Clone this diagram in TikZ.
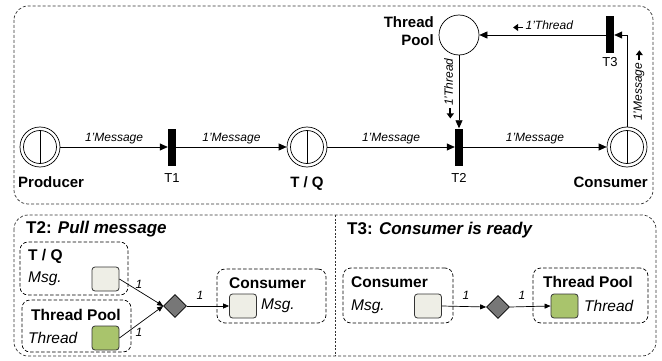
\documentclass[tikz,border=0pt]{standalone}
\usepackage{fontspec}
\setmainfont{Liberation Sans}
\usetikzlibrary{arrows.meta,shapes.geometric}

% bold direction arrows used inside arc inscriptions
\newcommand\larrow{\tikz[baseline=-0.4ex, x=1pt, y=1pt]\draw[line width=1.9pt, -{Triangle[length=5pt,width=7pt]}] (10,0) -- (0,0);\hspace{1.5pt}}
\newcommand\rarrow{\hspace{1.5pt}\tikz[baseline=-0.4ex, x=1pt, y=1pt]\draw[line width=1.9pt, -{Triangle[length=5pt,width=7pt]}] (0,0) -- (10,0);}

\definecolor{tokgray}{HTML}{EEEEE6}
\definecolor{tokgreen}{HTML}{A9C46C}
\definecolor{diagray}{HTML}{777777}
\definecolor{edgegray}{HTML}{333333}

\begin{document}
\begin{tikzpicture}[x=1pt,y=-1pt,
  frame/.style={draw=edgegray, line width=0.7pt, dash pattern=on 3pt off 2pt, rounded corners=14pt},
  subbox/.style={draw=black, line width=0.7pt, dash pattern=on 3.5pt off 2pt, rounded corners=8pt, inner sep=0, fill=none},
  place/.style={circle, draw, line width=0.7pt, minimum size=40pt, inner sep=0pt,
    path picture={
      \draw[line width=0.7pt] (path picture bounding box.center) circle[radius=16.5pt];
      \draw[line width=0.7pt] ([yshift=16.5pt]path picture bounding box.center) -- ([yshift=-16.5pt]path picture bounding box.center);}},
  plainplace/.style={circle, draw, line width=0.7pt, minimum size=40pt, inner sep=0pt},
  trans/.style={fill=black, draw=none, minimum width=8pt, minimum height=37pt, inner sep=0pt},
  arr/.style={-{Triangle[length=8pt,width=7pt]}, line width=0.7pt},
  sarr/.style={-{Triangle[length=6pt,width=5pt]}, line width=0.7pt},
  elabel/.style={font=\fontsize{12}{14}\selectfont\itshape, inner sep=0pt},
  plabel/.style={font=\fontsize{15}{17}\selectfont\bfseries, inner sep=0pt},
  tlabel/.style={font=\fontsize{13}{15}\selectfont, inner sep=0pt},
  title/.style={font=\fontsize{17}{19}\selectfont\bfseries, inner sep=0pt, anchor=west},
  head/.style={font=\fontsize{15.5}{17}\selectfont\bfseries, inner sep=0pt, anchor=west},
  item/.style={font=\fontsize{15.5}{17}\selectfont\itshape, inner sep=0pt, anchor=west},
  one/.style={font=\fontsize{12}{14}\selectfont\itshape, inner sep=0pt},
  token/.style={draw=edgegray, line width=0.8pt, rounded corners=3pt, minimum width=27pt, minimum height=24pt, inner sep=0pt},
  gate/.style={diamond, draw=black, line width=0.7pt, fill=diagray, minimum size=23pt, inner sep=0pt}
]
\useasboundingbox (0,0) rectangle (662,361);

% ---------- net ----------
\draw[frame] (14,6) rectangle (653,204);
\draw[frame] (14,215) rectangle (656,356);
\draw[edgegray, line width=0.7pt, dash pattern=on 2pt off 1.5pt] (335,215) -- (335,356);

\node[place] (prod) at (40,147) {};
\node[trans] (t1) at (172,147) {};
\node[place] (tq) at (307,147) {};
\node[trans] (t2) at (459,147) {};
\node[place] (cons) at (627,147) {};
\node[plainplace] (pool) at (459,35) {};
\node[trans] (t3) at (610,35) {};

\node[plabel, anchor=west] (lprod) at (18,182) {Producer};
\node[tlabel] (lt1) at (172,178) {T1};
\node[plabel] (ltq) at (307,184) {T / Q};
\node[tlabel] (lt2) at (459,178) {T2};
\node[plabel, anchor=east] (lcons) at (648,182) {Consumer};
\node[plabel, align=right, anchor=east] (lpool) at (434,31) {Thread\\[1pt]Pool};
\node[tlabel] (lt3) at (610,62) {T3};

\draw[arr] (prod) -- (t1) node[elabel, midway, anchor=base, yshift=6pt] {1'Message};
\draw[arr] (t1) -- (tq) node[elabel, midway, anchor=base, yshift=6pt] {1'Message};
\draw[arr] (tq) -- (t2) node[elabel, midway, anchor=base, yshift=6pt] {1'Message};
\draw[arr] (t2) -- (cons) node[elabel, midway, anchor=base, yshift=6pt] {1'Message};
\draw[arr] (t3) -- (pool) node[elabel, midway, anchor=base, yshift=5pt] {\larrow1'Thread};
\draw[arr] (pool) -- (t2);
\node[elabel, rotate=90] (lpt) at (449,89) {\larrow1'Thread};
\draw[arr] (cons.north) |- (t3.east);
\node[elabel, rotate=90] (lct) at (639,85) {1'Message\rarrow};

% ---------- T2 binding ----------
\node[title] (ht2) at (26,229) {T2: \textit{Pull message}};

\node[subbox, minimum width=108pt, minimum height=53pt] (bq) at (74,268.5) {};
\node[head] (hq) at (28,256) {T / Q};
\node[item] (iq) at (28,279) {Msg.};
\node[token, fill=tokgray] (kq) at (105.5,279) {};

\node[subbox, minimum width=109pt, minimum height=52pt] (bp) at (76.5,326) {};
\node[head] (hp) at (31,315) {Thread Pool};
\node[item] (ip) at (28,338) {Thread};
\node[token, fill=tokgreen] (kp) at (105.5,338) {};

\node[gate] (g2) at (175,306) {};

\node[subbox, minimum width=109pt, minimum height=54pt] (bc) at (271.5,296) {};
\node[head] (hc) at (229,283) {Consumer};
\node[token, fill=tokgray] (kc) at (243,306) {};
\node[item] (ic) at (261,306) {Msg.};

\draw[sarr] (kq.east) -- (g2.west);
\draw[sarr] (kp.east) -- (g2.west);
\draw[sarr] (g2.east) -- (kc.west);
\node[one] at (139,284) {1};
\node[one] at (139,332) {1};
\node[one] at (200,295) {1};

% ---------- T3 binding ----------
\node[title] (ht3) at (347,230) {T3: \textit{Consumer is ready}};

\node[subbox, minimum width=110pt, minimum height=55pt] (bc3) at (398,295.5) {};
\node[head] (hc3) at (351,282) {Consumer};
\node[item] (ic3) at (351,307) {Msg.};
\node[token, fill=tokgray] (kc3) at (428,306) {};

\node[gate] (g3) at (498,307) {};

\node[subbox, minimum width=115pt, minimum height=55pt] (bp3) at (590.5,295.5) {};
\node[head] (hp3) at (543,282) {Thread Pool};
\node[token, fill=tokgreen] (kp3) at (564.5,306) {};
\node[item] (ip3) at (584,306) {Thread};

\draw[sarr] (kc3.east) -- (g3.west);
\draw[sarr] (g3.east) -- (kp3.west);
\node[one] at (466,295) {1};
\node[one] at (522,295) {1};
\end{tikzpicture}
\end{document}
